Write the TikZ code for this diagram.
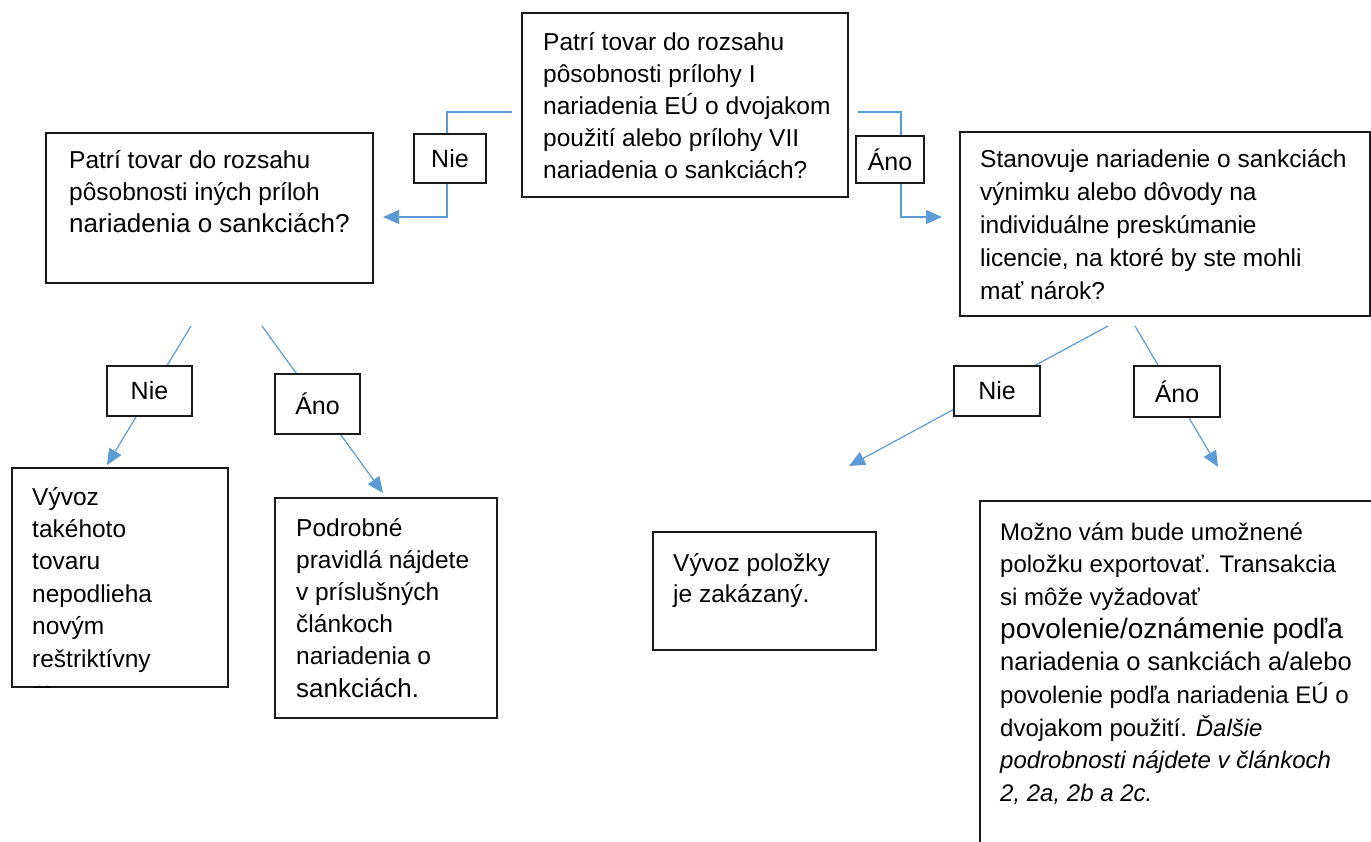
\documentclass[tikz,border=0pt]{standalone}
\usepackage{fontspec}
\setmainfont{Liberation Sans}
\usetikzlibrary{arrows.meta}
\definecolor{connblue}{HTML}{5B9BD5}
\definecolor{edge}{HTML}{1A1A1A}
\newcommand{\mytext}[3]{\parbox[t]{#2}{\fontsize{24.5}{#1}\selectfont\raggedright #3}}
\tikzset{
  qbox/.style={draw=edge, line width=1.8pt, inner sep=0pt},
  lbl/.style={draw=edge, line width=1.3pt, fill=white, inner sep=0pt, font=\fontsize{25}{30}\selectfont},
  conn/.style={draw=connblue, line width=1.2pt, -{Triangle[length=16pt,width=14pt]}},
  txt/.style={anchor=base west, inner sep=0pt},
}
\begin{document}
\begin{tikzpicture}[x=1pt,y=-1pt]
\path[use as bounding box] (0,0) rectangle (1371,841);
\clip (0,0) rectangle (1371,841);

% boxes
\node[qbox, minimum width=326, minimum height=184] (q1) at (685,105) {};
\node[qbox, minimum width=327, minimum height=150] (q2) at (209.5,208) {};
\node[qbox, minimum width=410, minimum height=184] (q3) at (1165,224) {};
\node[qbox, minimum width=216, minimum height=219] (r1) at (120,577.5) {};
\node[qbox, minimum width=222, minimum height=220] (r2) at (386,608) {};
\node[qbox, minimum width=223, minimum height=118] (r3) at (764.5,591) {};
\node[qbox, minimum width=420, minimum height=359] (r4) at (1190,680.5) {};

% connector ends
\coordinate (c1s) at (512,112); \coordinate (c1e) at (383,217);
\coordinate (c2s) at (858,112); \coordinate (c2e) at (942,217);
\coordinate (c3s) at (191,326); \coordinate (c3e) at (107,465);
\coordinate (c4s) at (262,326); \coordinate (c4e) at (383,493);
\coordinate (c5s) at (1108,326); \coordinate (c5e) at (849,466);
\coordinate (c6s) at (1135,326); \coordinate (c6e) at (1218,467);

% connectors
\draw[conn] (c1s) -- (447,112) -- (447,217) -- (c1e);
\draw[conn] (c2s) -- (901,112) -- (901,217) -- (c2e);
\draw[conn] (c3s) -- (c3e);
\draw[conn] (c4s) -- (c4e);
\draw[conn] (c5s) -- (c5e);
\draw[conn] (c6s) -- (c6e);

% labels
\node[lbl, minimum width=72, minimum height=49] (n1) at (450,158.5) {Nie};
\node[lbl, minimum width=68, minimum height=47] (a1) at (890,159.5) {Áno};
\node[lbl, minimum width=85, minimum height=50] (n2) at (149.5,391) {Nie};
\node[lbl, minimum width=85, minimum height=60] (a2) at (317.5,404) {Áno};
\node[lbl, minimum width=86, minimum height=50] (n3) at (997,391) {Nie};
\node[lbl, minimum width=86, minimum height=51] (a3) at (1177,391.5) {Áno};

% texts
\node[txt] (t1) at (543,50) {\mytext{32}{320pt}{Patrí tovar do rozsahu\\
pôsobnosti prílohy I\\
nariadenia EÚ o dvojakom\\
použití alebo prílohy VII\\
nariadenia o sankciách?}};
\node[txt] (t2) at (69,168) {\mytext{32}{320pt}{Patrí tovar do rozsahu\\
pôsobnosti iných príloh\\
{\fontsize{26}{32}\selectfont nariadenia o sankciách?}}};
\node[txt] (t3) at (980,167) {\mytext{33}{400pt}{Stanovuje nariadenie o sankciách\\
výnimku alebo dôvody na\\
individuálne preskúmanie\\
licencie, na ktoré by ste mohli\\
mať nárok?}};
\begin{scope}
\clip (r1.north west) rectangle (r1.south east);
\node[txt] (t4) at (32,505) {\mytext{32.4}{200pt}{Vývoz\\
takéhoto\\
tovaru\\
nepodlieha\\
novým\\
reštriktívny\\
m}};
\end{scope}
\node[txt] (t5) at (296,536) {\mytext{32.2}{220pt}{Podrobné\\
pravidlá nájdete\\
v príslušných\\
článkoch\\
nariadenia o\\
{\fontsize{26}{32}\selectfont sankciách.}}};
\node[txt] (t6) at (673,571) {\mytext{31}{220pt}{Vývoz položky\\
je zakázaný.}};
\node[txt] (t7) at (1000,540) {\mytext{32.7}{420pt}{{\fontsize{24}{32.7}\selectfont Možno vám bude umožnené}\\
{\fontsize{24}{32.7}\selectfont položku exportovať. Transakcia}\\
{\fontsize{24}{32.7}\selectfont si môže vyžadovať}\\
{\fontsize{28}{32.7}\selectfont povolenie/oznámenie podľa}\\
{\fontsize{25.5}{32.7}\selectfont nariadenia o sankciách a/alebo}\\
{\fontsize{24}{32.7}\selectfont povolenie podľa nariadenia EÚ o}\\
{\fontsize{24}{32.7}\selectfont dvojakom použití. \textit{Ďalšie}}\\
{\fontsize{24}{32.7}\selectfont\itshape podrobnosti nájdete v článkoch}\\
{\fontsize{24}{32.7}\selectfont\itshape 2, 2a, 2b a 2c.}}};
\end{tikzpicture}
\end{document}
